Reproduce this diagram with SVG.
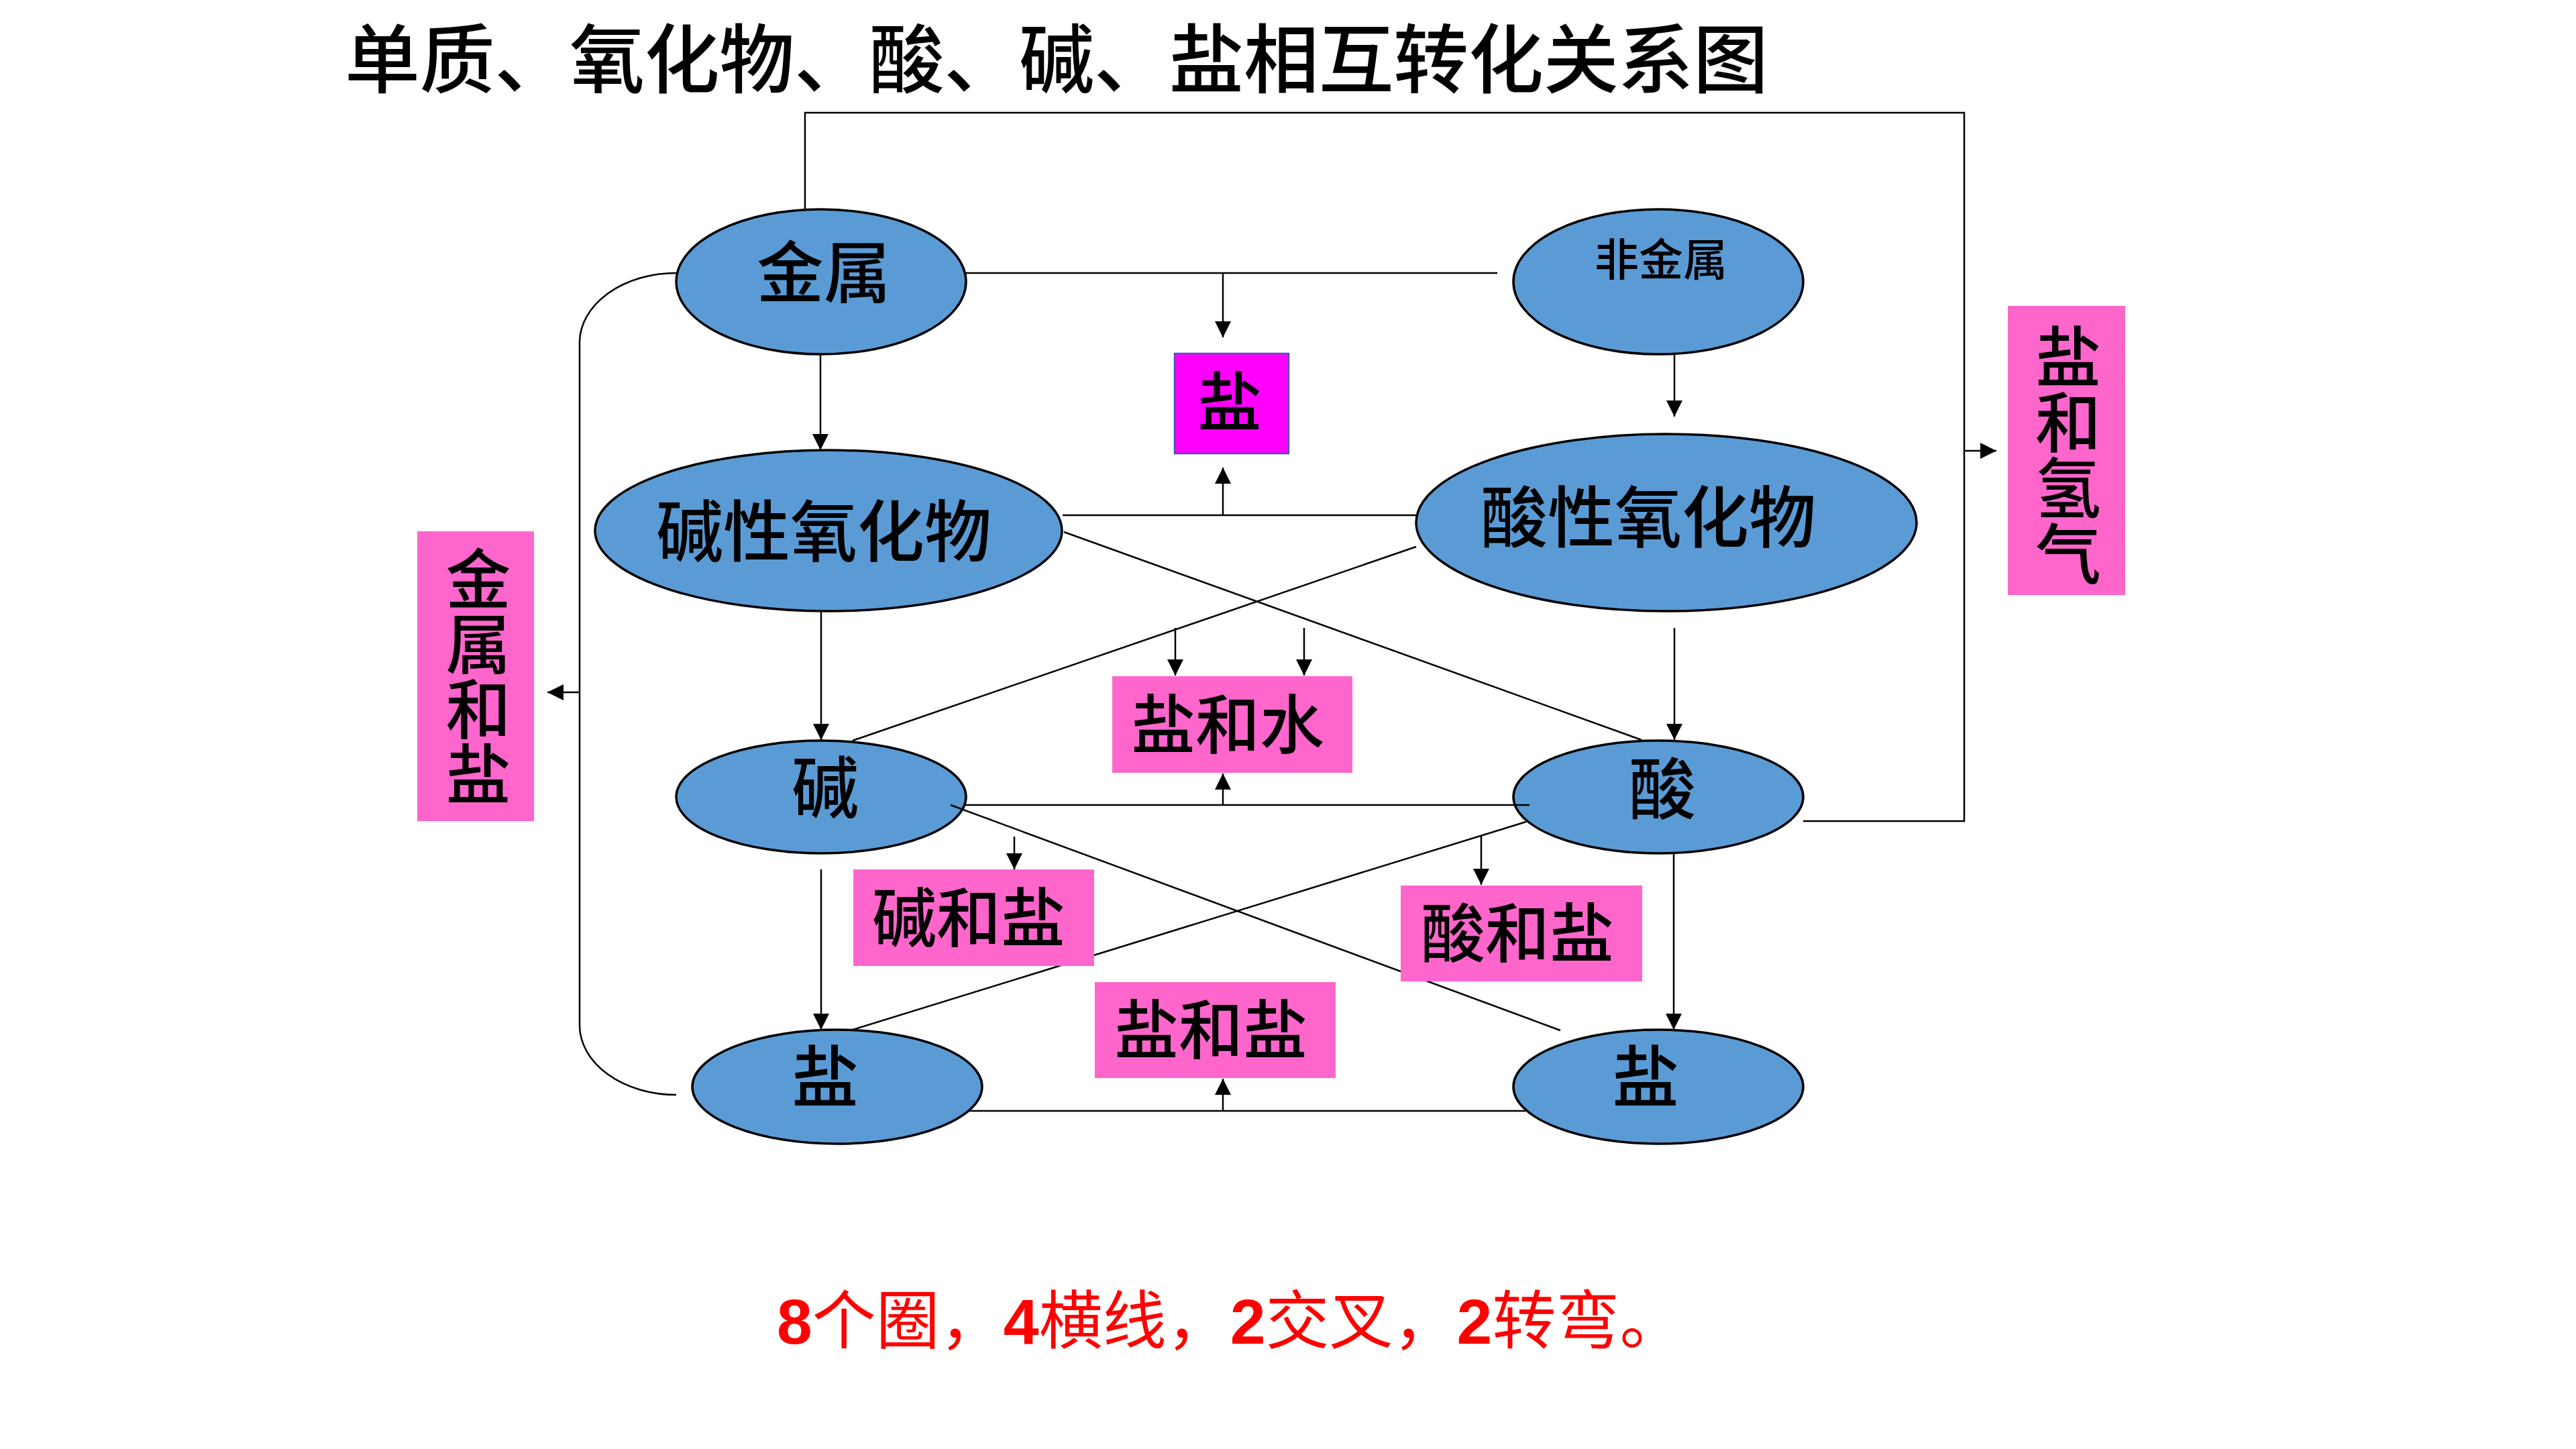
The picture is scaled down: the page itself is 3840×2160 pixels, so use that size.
<svg xmlns="http://www.w3.org/2000/svg" width="3840" height="2160" viewBox="0 0 3840 2160">
<defs>
<marker id="arr" markerUnits="userSpaceOnUse" markerWidth="24" markerHeight="24" viewBox="0 0 24 24" refX="24" refY="12" orient="auto">
<path d="M0,0 L24,12 L0,24 z" fill="#000"/>
</marker>
<style>
.ell{fill:#5B9BD5;stroke:#000;stroke-width:3.5}
.pink{fill:#FF66CC}
.mag{fill:#FF00FF;stroke:#5050B8;stroke-width:2.5}
.t{font-family:"Noto Sans CJK SC","Noto Sans CJK TC",sans-serif;font-size:100px;font-weight:500;text-anchor:middle;fill:#000}
.v{font-family:"Noto Sans CJK SC","Noto Sans CJK TC",sans-serif;font-size:98px;font-weight:500;fill:#000;writing-mode:vertical-rl}
.c{stroke:#000;stroke-width:2.5;fill:none}
.a{stroke:#000;stroke-width:2.5;fill:none;marker-end:url(#arr)}
</style>
</defs>
<rect width="3840" height="2160" fill="#fff"/>
<text x="514" y="130" font-family="Noto Sans CJK SC, sans-serif" font-size="112" font-weight="500" textLength="2122" lengthAdjust="spacing" fill="#000">单质、氧化物、酸、碱、盐相互转化关系图</text>

<g id="n-metal"><ellipse class="ell" cx="1224" cy="420" rx="216" ry="108"/><text class="t" x="1228" y="443">金属</text></g>
<g id="n-nonmetal"><ellipse class="ell" cx="2472" cy="420" rx="216" ry="108"/><text class="t" x="2476" y="411" style="font-size:66px">非金属</text></g>
<g id="n-basicoxide"><ellipse class="ell" cx="1235" cy="791" rx="348" ry="120"/><text class="t" x="1228" y="829">碱性氧化物</text></g>
<g id="n-acidoxide"><ellipse class="ell" cx="2484" cy="779" rx="373" ry="132"/><text class="t" x="2457" y="808">酸性氧化物</text></g>
<g id="n-base"><ellipse class="ell" cx="1224" cy="1188" rx="216" ry="84"/><text class="t" x="1230" y="1211">碱</text></g>
<g id="n-acid"><ellipse class="ell" cx="2472" cy="1188" rx="216" ry="84"/><text class="t" x="2478" y="1213">酸</text></g>
<g id="n-salt-left"><ellipse class="ell" cx="1248" cy="1620" rx="216" ry="85"/><text class="t" x="1230" y="1642">盐</text></g>
<g id="n-salt-right"><ellipse class="ell" cx="2472" cy="1620" rx="216" ry="85"/><text class="t" x="2453" y="1642">盐</text></g>

<g id="connectors">
<path class="c" d="M1200,312 L1200,168 L2928,168 L2928,1224 L2688,1224"/>
<path class="a" d="M2928,672 L2976,672"/>
<path class="c" d="M1440,407 L2232,407"/>
<path class="a" d="M1823,407 L1823,503"/>
<path class="c" d="M1584,768 L2111,768"/>
<path class="a" d="M1823,768 L1823,697"/>
<path class="c" d="M1586,793 L2447,1103"/>
<path class="c" d="M2111,815 L1271,1104"/>
<path class="a" d="M1752,936 L1752,1007"/>
<path class="a" d="M1944,936 L1944,1007"/>
<path class="c" d="M1439,1200 L2280,1200"/>
<path class="a" d="M1823,1200 L1823,1153"/>
<path class="c" d="M1417,1200 L2326,1536"/>
<path class="c" d="M2275,1225 L1271,1535"/>
<path class="a" d="M1512,1247 L1512,1296"/>
<path class="a" d="M2208,1246 L2208,1319"/>
<path class="a" d="M1223,528 L1223,671"/>
<path class="a" d="M1224,912 L1224,1103"/>
<path class="a" d="M2496,528 L2496,621"/>
<path class="a" d="M2496,936 L2496,1103"/>
<path class="a" d="M1224,1296 L1224,1535"/>
<path class="a" d="M2495,1272 L2495,1535"/>
<path class="c" d="M1444,1656 L2275,1656"/>
<path class="a" d="M1823,1656 L1823,1608"/>
<path class="c" d="M1008,407 A144,104 0 0 0 864,511 L864,1528 A144,104 0 0 0 1008,1632"/>
<path class="a" d="M864,1032 L816,1032"/>
</g>

<g id="b-salt"><rect class="mag" x="1751" y="527" width="170" height="149"/><text class="t" x="1833" y="634" style="font-size:96px">盐</text></g>
<g id="b-salt-h2"><rect class="pink" x="2993" y="456" width="175" height="431"/><text class="v" x="3083" y="482">盐和氢气</text></g>
<g id="b-metal-salt"><rect class="pink" x="622" y="792" width="174" height="432"/><text class="v" x="713" y="814" style="font-size:97px">金属和盐</text></g>
<g id="b-salt-water"><rect class="pink" x="1658" y="1008" width="358" height="144"/><text class="t" x="1830" y="1115" style="font-size:96px">盐和水</text></g>
<g id="b-base-salt"><rect class="pink" x="1272" y="1296" width="359" height="144"/><text class="t" x="1444" y="1403" style="font-size:96px">碱和盐</text></g>
<g id="b-salt-salt"><rect class="pink" x="1632" y="1464" width="359" height="143"/><text class="t" x="1805" y="1570" style="font-size:96px">盐和盐</text></g>
<g id="b-acid-salt"><rect class="pink" x="2088" y="1320" width="360" height="143"/><text class="t" x="2262" y="1426" style="font-size:96px">酸和盐</text></g>

<text x="1158" y="2003" font-family="Noto Sans CJK SC, sans-serif" font-size="95" fill="#FF0000"><tspan font-family="Liberation Sans, Arial, sans-serif" font-weight="bold">8</tspan>个圈，<tspan font-family="Liberation Sans, Arial, sans-serif" font-weight="bold">4</tspan>横线，<tspan font-family="Liberation Sans, Arial, sans-serif" font-weight="bold">2</tspan>交叉，<tspan font-family="Liberation Sans, Arial, sans-serif" font-weight="bold">2</tspan>转弯。</text>
</svg>
